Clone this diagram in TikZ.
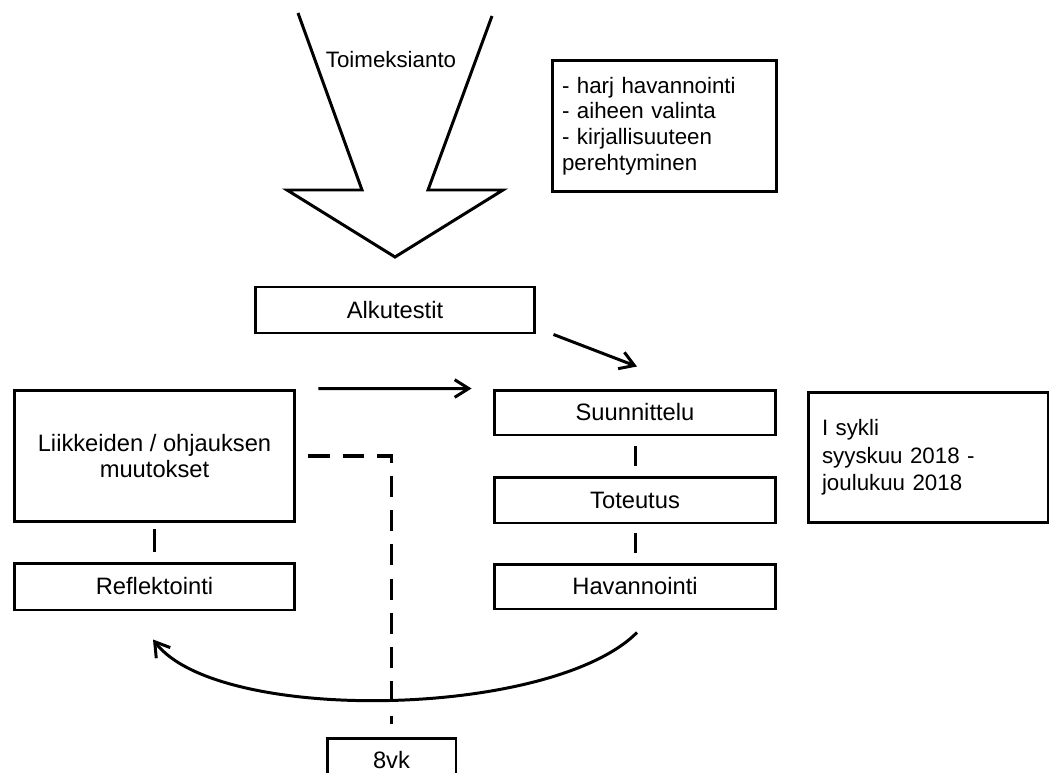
\documentclass[tikz,border=0pt]{standalone}
\usepackage{fontspec}
\setmainfont{Liberation Sans}
\usetikzlibrary{calc,positioning,arrows.meta}
\tikzset{
  >={Straight Barb[length=8pt,width=10pt]},
  box/.style={draw, line width=1.7pt, inner sep=0pt, align=center,
    font=\fontsize{13.5}{15.3}\selectfont},
  note/.style={box, align=left, font=\fontsize{12.7}{14.6}\selectfont},
  link/.style={draw, line width=1.7pt},
  arr/.style={->, line width=1.7pt},
  dashline/.style={line width=2.1pt, dash pattern=on 12pt off 7.5pt},
}

\begin{document}
\begin{tikzpicture}[x=0.02cm, y=-0.02cm]
    \useasboundingbox (0,0) rectangle (1050,773);
    \clip (0,0) rectangle (1050,773);

    % big arrow
    \draw[line width=1.7pt] (298,13) -- (362,190) -- (287,190) -- (395,257)
        -- (503,190) -- (428,190) -- (492,16);
    \node[font=\fontsize{12.7}{14.6}\selectfont] (toim) at (391,60) {Toimeksianto};

    % notes
    \node[note, minimum width=4.5cm, minimum height=2.64cm, text width=4.1cm] (harj) at (664.5,126)
        {- harj havannointi\\- aiheen valinta\\- kirjallisuuteen\\perehtyminen};
    \node[note, minimum width=4.8cm, minimum height=2.62cm, text width=4.24cm,
        font=\fontsize{12.7}{15.6}\selectfont] (sykli) at (928,457.5)
        {I sykli\\syyskuu 2018 -\\joulukuu 2018};

    % boxes
    \node[box, minimum width=5.6cm, minimum height=0.92cm] (alku) at (395,310) {Alkutestit};
    \node[box, minimum width=5.64cm, minimum height=0.9cm] (suun) at (635,412.5) {Suunnittelu};
    \node[box, minimum width=5.64cm, minimum height=0.92cm] (tot) at (635,500) {Toteutus};
    \node[box, minimum width=5.64cm, minimum height=0.9cm] (hav) at (635,586.5) {Havannointi};
    \node[box, minimum width=5.62cm, minimum height=2.64cm] (liik) at (154.5,456)
        {Liikkeiden / ohjauksen\\muutokset};
    \node[box, minimum width=5.62cm, minimum height=0.94cm] (refl) at (154.5,586.5) {Reflektointi};
    \node[box, minimum width=2.58cm, minimum height=0.88cm] (vk) at (391.5,760) {8vk};

    % connectors
    \draw[link, shorten <=0.2cm, shorten >=0.2cm] (suun) -- (tot);
    \draw[link, shorten <=0.18cm, shorten >=0.2cm] (tot) -- (hav);
    \draw[link, shorten <=0.12cm, shorten >=0.2cm] (liik) -- (refl);

    \coordinate (a1) at ($(alku.south east)+(17,0)$);
    \coordinate (a2) at ($(suun.north)+(2,-22)$);
    \draw[arr] (a1) -- (a2);
    \draw[arr, shorten <=0.44cm, shorten >=0.42cm] (liik.north east) -- (suun.north west);

    \draw[dashline, shorten <=0.24cm, shorten >=0.26cm] (liik.east) -| (vk.north);

    \coordinate (c1) at ($(hav.south)+(2,22)$);
    \coordinate (c2) at ($(refl.south)+(-1.5,28)$);
    \draw[arr] (c1) .. controls +(-86,86) and +(65,85) .. (c2);
\end{tikzpicture}
\end{document}
